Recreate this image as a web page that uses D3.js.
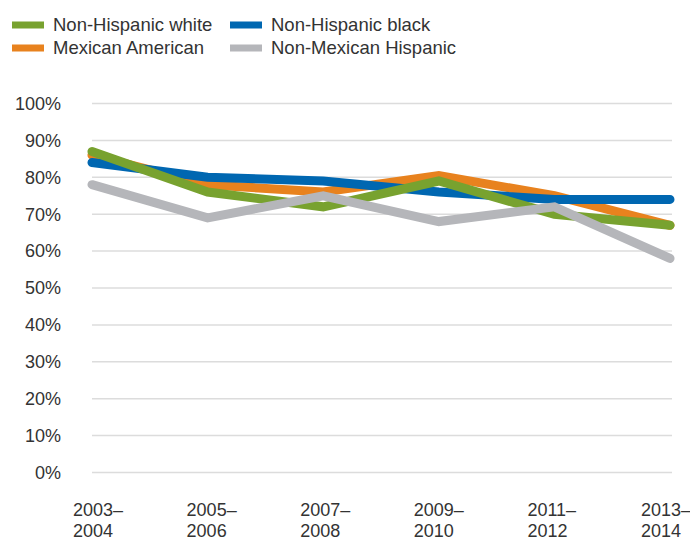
<!DOCTYPE html>
<html><head><meta charset="utf-8">
<script src="https://cdn.jsdelivr.net/npm/d3@7"></script>
<style>body{margin:0;background:#fff;}svg{display:block;font-family:"Liberation Sans",Arial,sans-serif;}</style>
</head><body><svg id="c" width="690" height="542"></svg>
<script>
const periods = ["2003–2004","2005–2006","2007–2008","2009–2010","2011–2012","2013–2014"];
const nhWhite = [87, 76, 72, 79, 70, 67];
const nhBlack = [84, 80, 79, 76, 74, 74];
const mexAm = [86, 78, 76, 80.5, 75, 67];
const nonMexHisp = [78, 69, 75, 68, 72, 58];
const yTicks = [0,10,20,30,40,50,60,70,80,90,100];
const seriesNames = ["Non-Hispanic white","Non-Hispanic black","Mexican American","Non-Mexican Hispanic"];
const colors = {"Non-Hispanic white":"#78a22f","Non-Hispanic black":"#0067b1","Mexican American":"#e8821e","Non-Mexican Hispanic":"#b5b6ba"};
const seriesData = {"Non-Hispanic white":nhWhite,"Non-Hispanic black":nhBlack,"Mexican American":mexAm,"Non-Mexican Hispanic":nonMexHisp};
const drawOrder = ["Mexican American","Non-Hispanic black","Non-Hispanic white","Non-Mexican Hispanic"];

const svg = d3.select("#c");
const x = d3.scalePoint().domain(periods).range([92, 670]);
const xLab = d3.scalePoint().domain(periods).range([73, 641]);
const y = d3.scaleLinear().domain([0,100]).range([472.5, 103.5]);

// grid
svg.append("g").selectAll("line").data(yTicks).join("line")
  .attr("x1",92).attr("x2",672)
  .attr("y1",d=>y(d)).attr("y2",d=>y(d))
  .attr("stroke","#dcdcdc").attr("stroke-width",1.5);

// y labels
svg.append("g").selectAll("text").data(yTicks).join("text")
  .attr("x",61).attr("y",d=>y(d)).attr("dy","0.35em")
  .attr("text-anchor","end").attr("font-size",18).attr("fill","#333")
  .text(d=>d+"%");

// x labels
const xl = svg.append("g").selectAll("text").data(periods).join("text")
  .attr("text-anchor","start").attr("font-size",18).attr("fill","#333")
  .attr("transform",d=>`translate(${xLab(d)},0)`);
xl.append("tspan").attr("x",0).attr("y",516).text(d=>d.split("–")[0]+"–");
xl.append("tspan").attr("x",0).attr("y",537).text(d=>d.split("–")[1]);

// lines
const line = d3.line().x((d,i)=>x(periods[i])).y(d=>y(d));
svg.append("g").selectAll("path").data(drawOrder).join("path")
  .attr("d",k=>line(seriesData[k]))
  .attr("fill","none").attr("stroke",k=>colors[k])
  .attr("stroke-width",9).attr("stroke-linecap","round").attr("stroke-linejoin","miter");

// legend
const legPos = [[12,25],[230,25],[12,48],[230,48]];
const legOrder = ["Non-Hispanic white","Non-Hispanic black","Mexican American","Non-Mexican Hispanic"];
const lg = svg.append("g").selectAll("g").data(legOrder).join("g")
  .attr("transform",(d,i)=>`translate(${legPos[i][0]},${legPos[i][1]})`);
lg.append("rect").attr("x",0).attr("y",-3.5).attr("width",32).attr("height",7).attr("fill",d=>colors[d]);
lg.append("text").attr("x",41).attr("y",0).attr("dy","0.35em").attr("font-size",18.5).attr("fill","#333").text(d=>d);
</script></body></html>
